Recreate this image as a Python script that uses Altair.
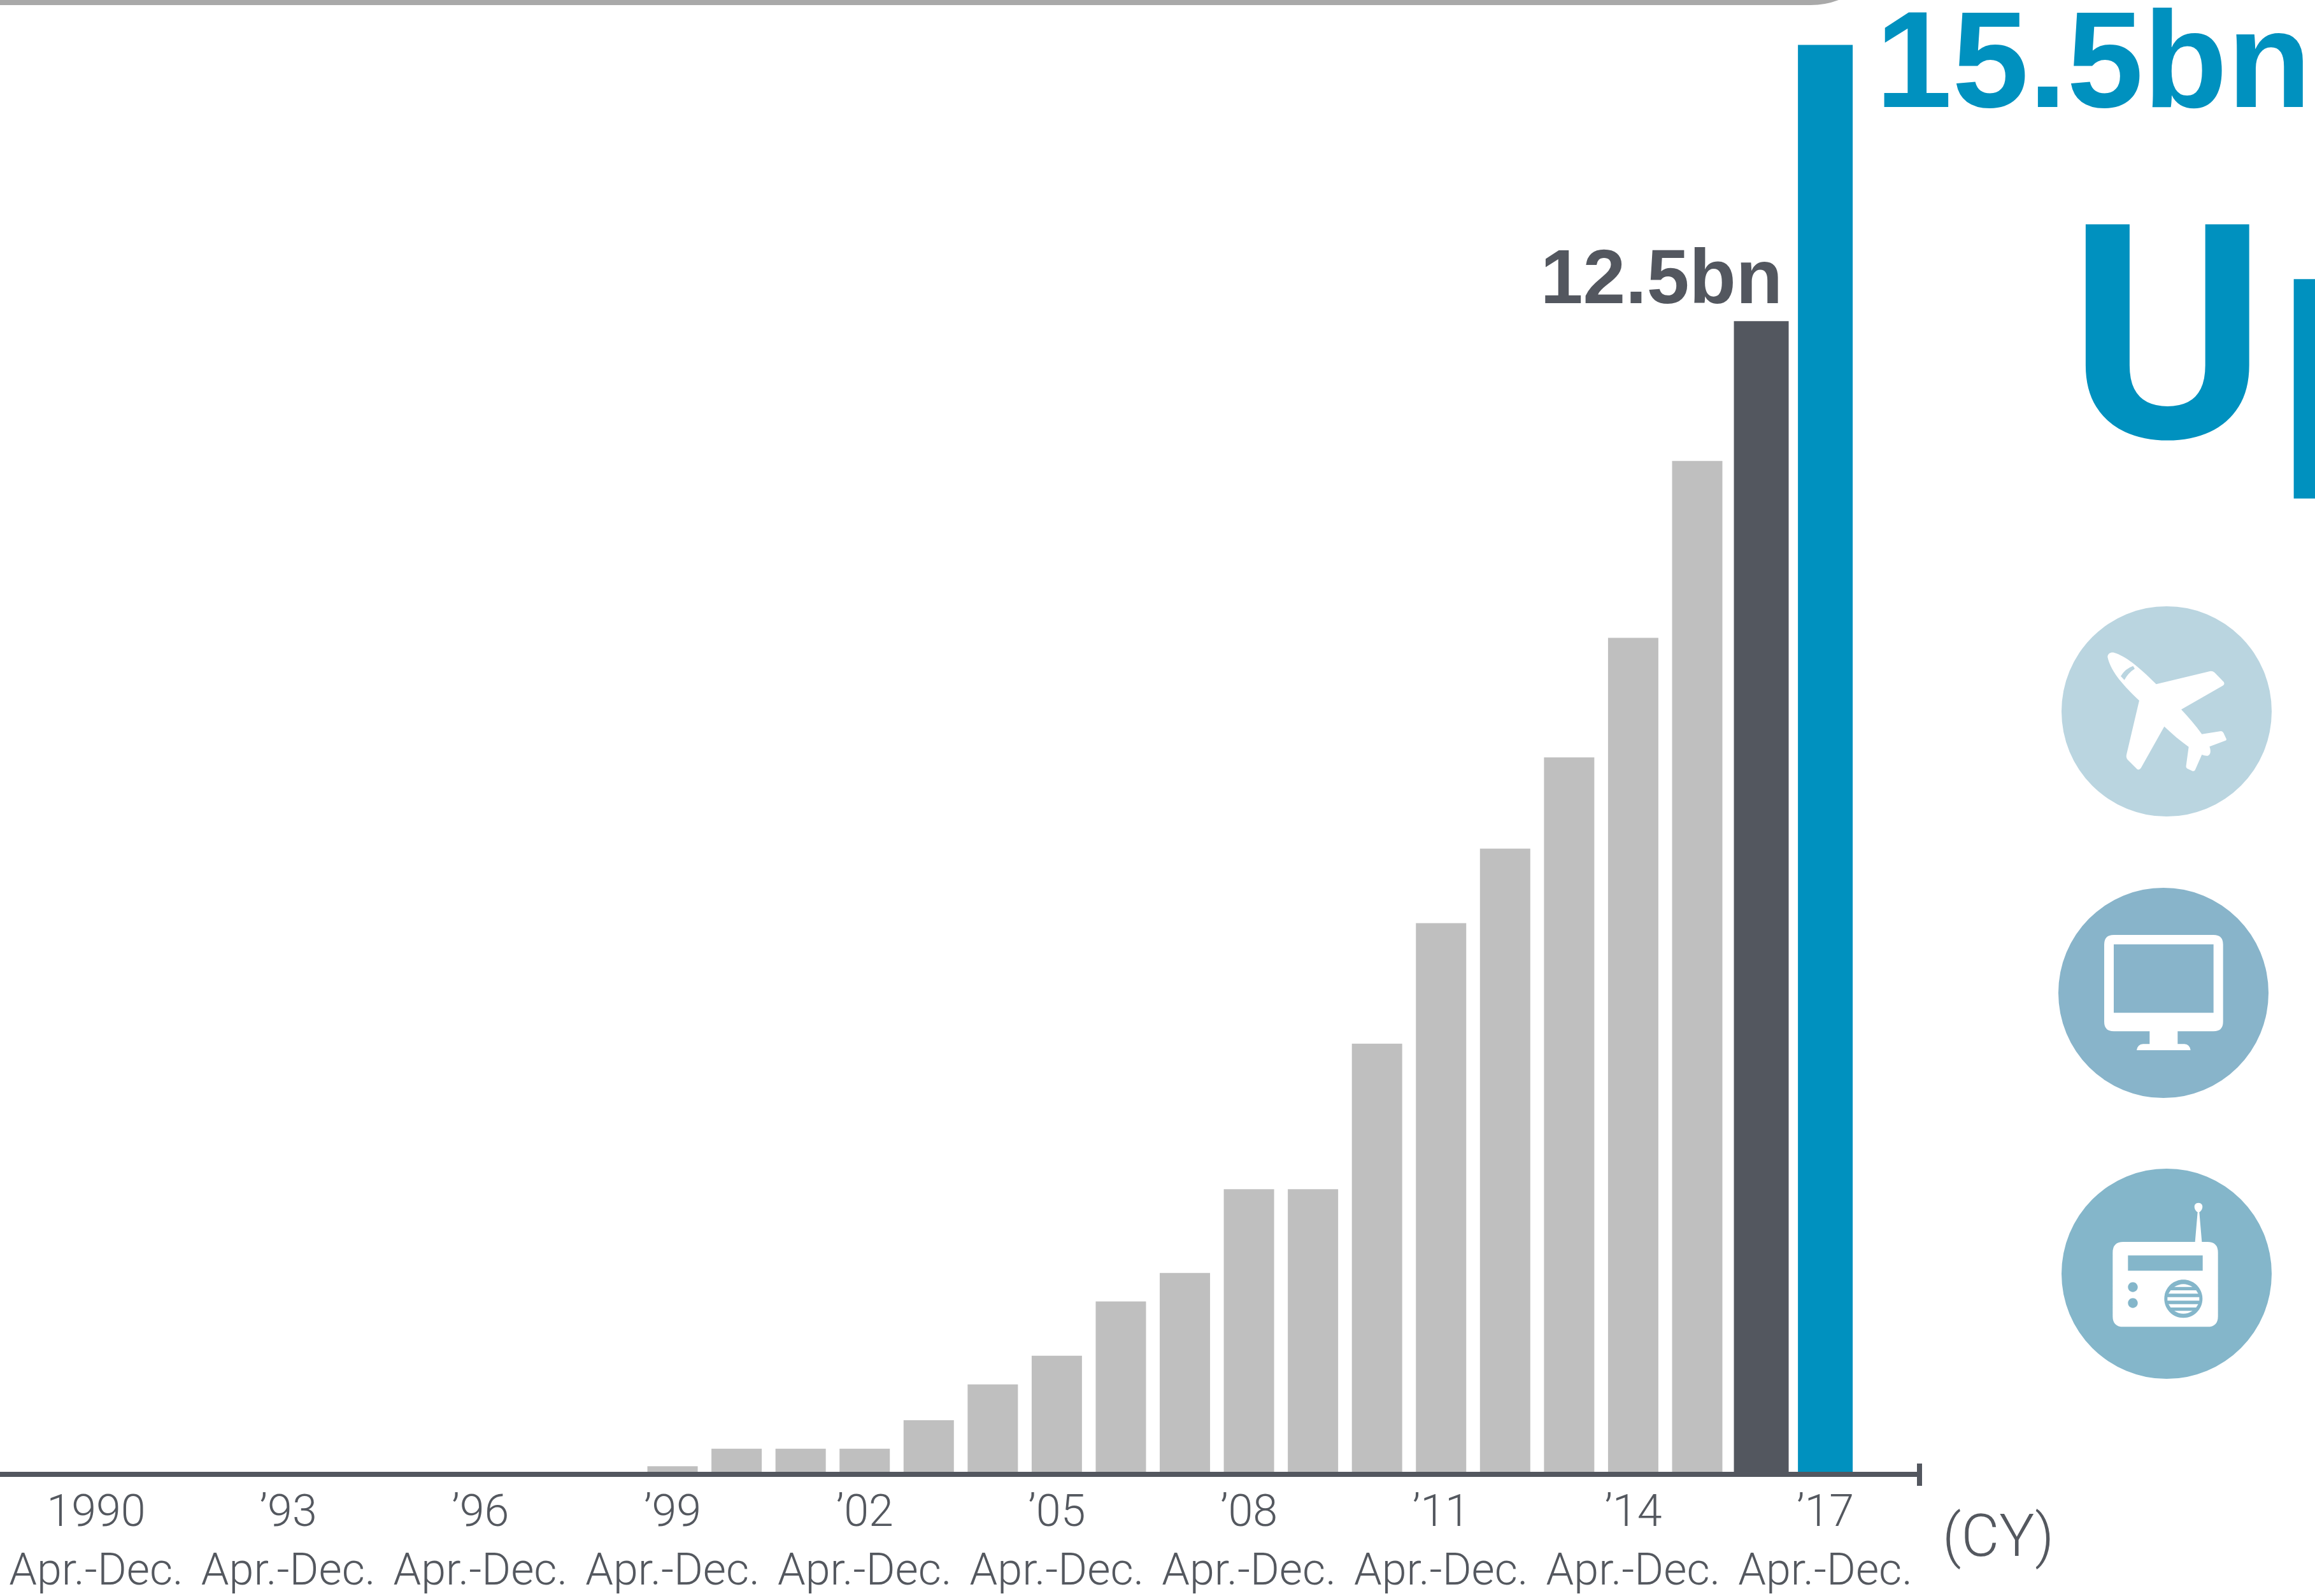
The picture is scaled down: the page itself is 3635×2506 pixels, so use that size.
import altair as alt
import pandas as pd

# Yearly values, billions
years = list(range(1990, 2018))
values = [0, 0, 0, 0, 0, 0, 0, 0, 0, 0.06, 0.25, 0.25, 0.25, 0.56, 0.95, 1.26,
          1.85, 2.16, 3.07, 3.07, 4.65, 5.96, 6.77, 7.76, 9.06, 10.98, 12.5, 15.5]

# Axis captions, every third year
label_years = [1990, 1993, 1996, 1999, 2002, 2005, 2008, 2011, 2014, 2017]
year_labels = ["1990", "’93", "’96", "’99", "’02", "’05", "’08", "’11", "’14", "’17"]
period_label = "Apr.-Dec."

GREY = "#bfbfbf"
DARK = "#53575f"
BLUE = "#0091bf"
TEXT = "#54585f"
FONT = "Liberation Sans"
LIGHT = "Roboto"

W, H = 3635, 2506
X0, STEP = 151.0, 100.56      # pixel centre of 1990, pixels per year
Y0, UNIT = 2311.0, 144.55     # pixel of zero, pixels per billion

x_scale = alt.Scale(domain=[1990 - X0 / STEP, 1990 + (W - X0) / STEP], range=[0, W], nice=False, zero=False, padding=0)
y_scale = alt.Scale(domain=[(Y0 - H) / UNIT, Y0 / UNIT], range=[H, 0], nice=False, zero=False, padding=0)
x_enc = alt.X("year:Q", scale=x_scale, axis=None)
y_enc = alt.Y("value:Q", scale=y_scale, axis=None)

df = pd.DataFrame({"year": years, "value": values})
captions = pd.DataFrame({"year": label_years, "label": year_labels, "period": [period_label] * len(label_years)})


def bars(frame, color, width):
    return alt.Chart(frame).mark_bar(color=color, size=width).encode(x=x_enc, y=y_enc, y2=alt.Y2(datum=0))


def note(text, x, y, size, color=TEXT, weight=400, align="left", font=FONT):
    return alt.Chart(pd.DataFrame({"t": [text]})).mark_text(
        font=font, fontSize=size, color=color, fontWeight=weight,
        align=align, baseline="alphabetic",
    ).encode(x=alt.value(x), y=alt.value(y), text="t:N")


def circle_path(cx, cy, r, clockwise):
    k = 0.5523 * r
    if clockwise:
        return (f"M{cx-r} {cy}C{cx-r} {cy-k} {cx-k} {cy-r} {cx} {cy-r}C{cx+k} {cy-r} {cx+r} {cy-k} {cx+r} {cy}"
                f"C{cx+r} {cy+k} {cx+k} {cy+r} {cx} {cy+r}C{cx-k} {cy+r} {cx-r} {cy+k} {cx-r} {cy}Z")
    return (f"M{cx-r} {cy}C{cx-r} {cy+k} {cx-k} {cy+r} {cx} {cy+r}C{cx+k} {cy+r} {cx+r} {cy+k} {cx+r} {cy}"
            f"C{cx+r} {cy-k} {cx+k} {cy-r} {cx} {cy-r}C{cx-k} {cy-r} {cx-r} {cy-k} {cx-r} {cy}Z")


# Icon outlines, in a 780-unit box; inner cut-outs wind the other way
PLANE = ("M118 125C118 108 135 100 150 105C200 120 260 165 347 253L600 192Q612 190 622 198L665 242Q672 252 660 260"
         "L465 372C500 410 535 450 562 488L652 474Q660 474 664 482L678 512Q678 518 670 520L598 547"
         "C605 565 605 585 590 590Q578 592 562 585L530 658Q525 664 518 662L493 650Q486 646 488 636L500 548"
         "C460 520 420 485 385 452L275 648Q268 658 258 654L212 608Q204 598 207 585L267 330C200 265 135 200 118 125Z"
         "M180 215L197 233Q215 200 246 180L238 167Q200 180 180 215Z")
MONITOR = ("M147 114L617 114Q662 114 662 159L662 523Q662 568 617 568L448 568L448 628L480 628Q505 630 509 657"
           "L255 657Q259 630 285 628L316 628L316 568L147 568Q102 568 102 523L102 159Q102 114 147 114Z"
           "M147 158L147 481L617 481L617 158Z")
RADIO = ("M192 240L530 240L542 100C525 92 518 57 546 56C574 57 567 92 550 100L562 240L588 240Q638 240 638 290"
         "L638 590Q638 640 588 640L192 640Q142 640 142 590L142 290Q142 240 192 240Z"
         "M214 304L214 376L566 376L566 304Z"
         + circle_path(237, 453, 23, False) + circle_path(237, 528, 23, False) + circle_path(475, 508, 90, False) +
         "M432 452Q475 425 518 452Z"
         "M415 468L535 468L545 484L405 484Z"
         "M400 500L550 500L550 517L400 517Z"
         "M405 533L545 533L535 549L415 549Z"
         "M432 565L518 565Q475 592 432 565Z")


def badge(cx, cy, fill, ox, oy, path):
    # Filled disc with a white pictogram whose path units are one third of a pixel
    one = pd.DataFrame({"a": [0]})
    disc = alt.Chart(one).mark_point(shape="circle", filled=True, opacity=1, color=fill, size=330 ** 2, strokeWidth=0).encode(
        x=alt.value(cx), y=alt.value(cy))
    icon = alt.Chart(one).mark_point(shape=path, filled=True, opacity=1, color="white", size=4 / 9, strokeWidth=0).encode(
        x=alt.value(ox), y=alt.value(oy))
    return disc + icon


frame_edge = alt.Chart(pd.DataFrame({"a": [0]})).mark_rect(
    fill="white", stroke="#a9a9a9", strokeWidth=8, cornerRadius=121
).encode(x=alt.value(-300), x2=alt.value(2964), y=alt.value(-400), y2=alt.value(4))

baseline = alt.Chart(pd.DataFrame({"a": [0]})).mark_rule(color=DARK, strokeWidth=8).encode(
    x=alt.value(0), x2=alt.value(3014), y=alt.value(2315))
end_tick = alt.Chart(pd.DataFrame({"a": [0]})).mark_rule(color=DARK, strokeWidth=8).encode(
    x=alt.value(3014), y=alt.value(2298), y2=alt.value(2333))

year_text = alt.Chart(captions).mark_text(font=LIGHT, fontWeight=300, fontSize=70, color=TEXT, baseline="alphabetic").encode(
    x=x_enc, y=alt.value(2396), text="label:N")
period_text = alt.Chart(captions).mark_text(font=LIGHT, fontWeight=300, fontSize=70, color=TEXT, baseline="alphabetic").encode(
    x=x_enc, y=alt.value(2488), text="period:N")

chart = alt.layer(
    frame_edge,
    bars(df[df.year < 2016], GREY, 79),
    bars(df[df.year == 2016], DARK, 86),
    bars(df[df.year == 2017], BLUE, 86),
    baseline,
    end_tick,
    year_text,
    period_text,
    note("(CY)", 3050, 2443, 92, TEXT, 300, font=LIGHT),
    note(f"{values[-2]}bn", 2799, 476, 120, DARK, 700, "right"),
    note(f"{values[-1]}bn", 2945, 168, 216, BLUE, 700),
    note("U", 3248, 687, 471, BLUE, 700, font="Roboto"),
    note("p", 3576, 687, 471, BLUE, 700, font="Roboto"),
    badge(3402, 1117, "#bad5e0", 3270, 990, PLANE),
    badge(3397, 1559, "#88b4ca", 3270, 1430, MONITOR),
    badge(3402, 2000, "#84b6ca", 3270, 1870, RADIO),
).properties(
    width=W, height=H, padding=0, background="white",
    autosize=alt.AutoSizeParams(type="none"),
).configure_view(stroke=None)

chart.save("out.html", embed_options={"renderer": "svg", "actions": False})
